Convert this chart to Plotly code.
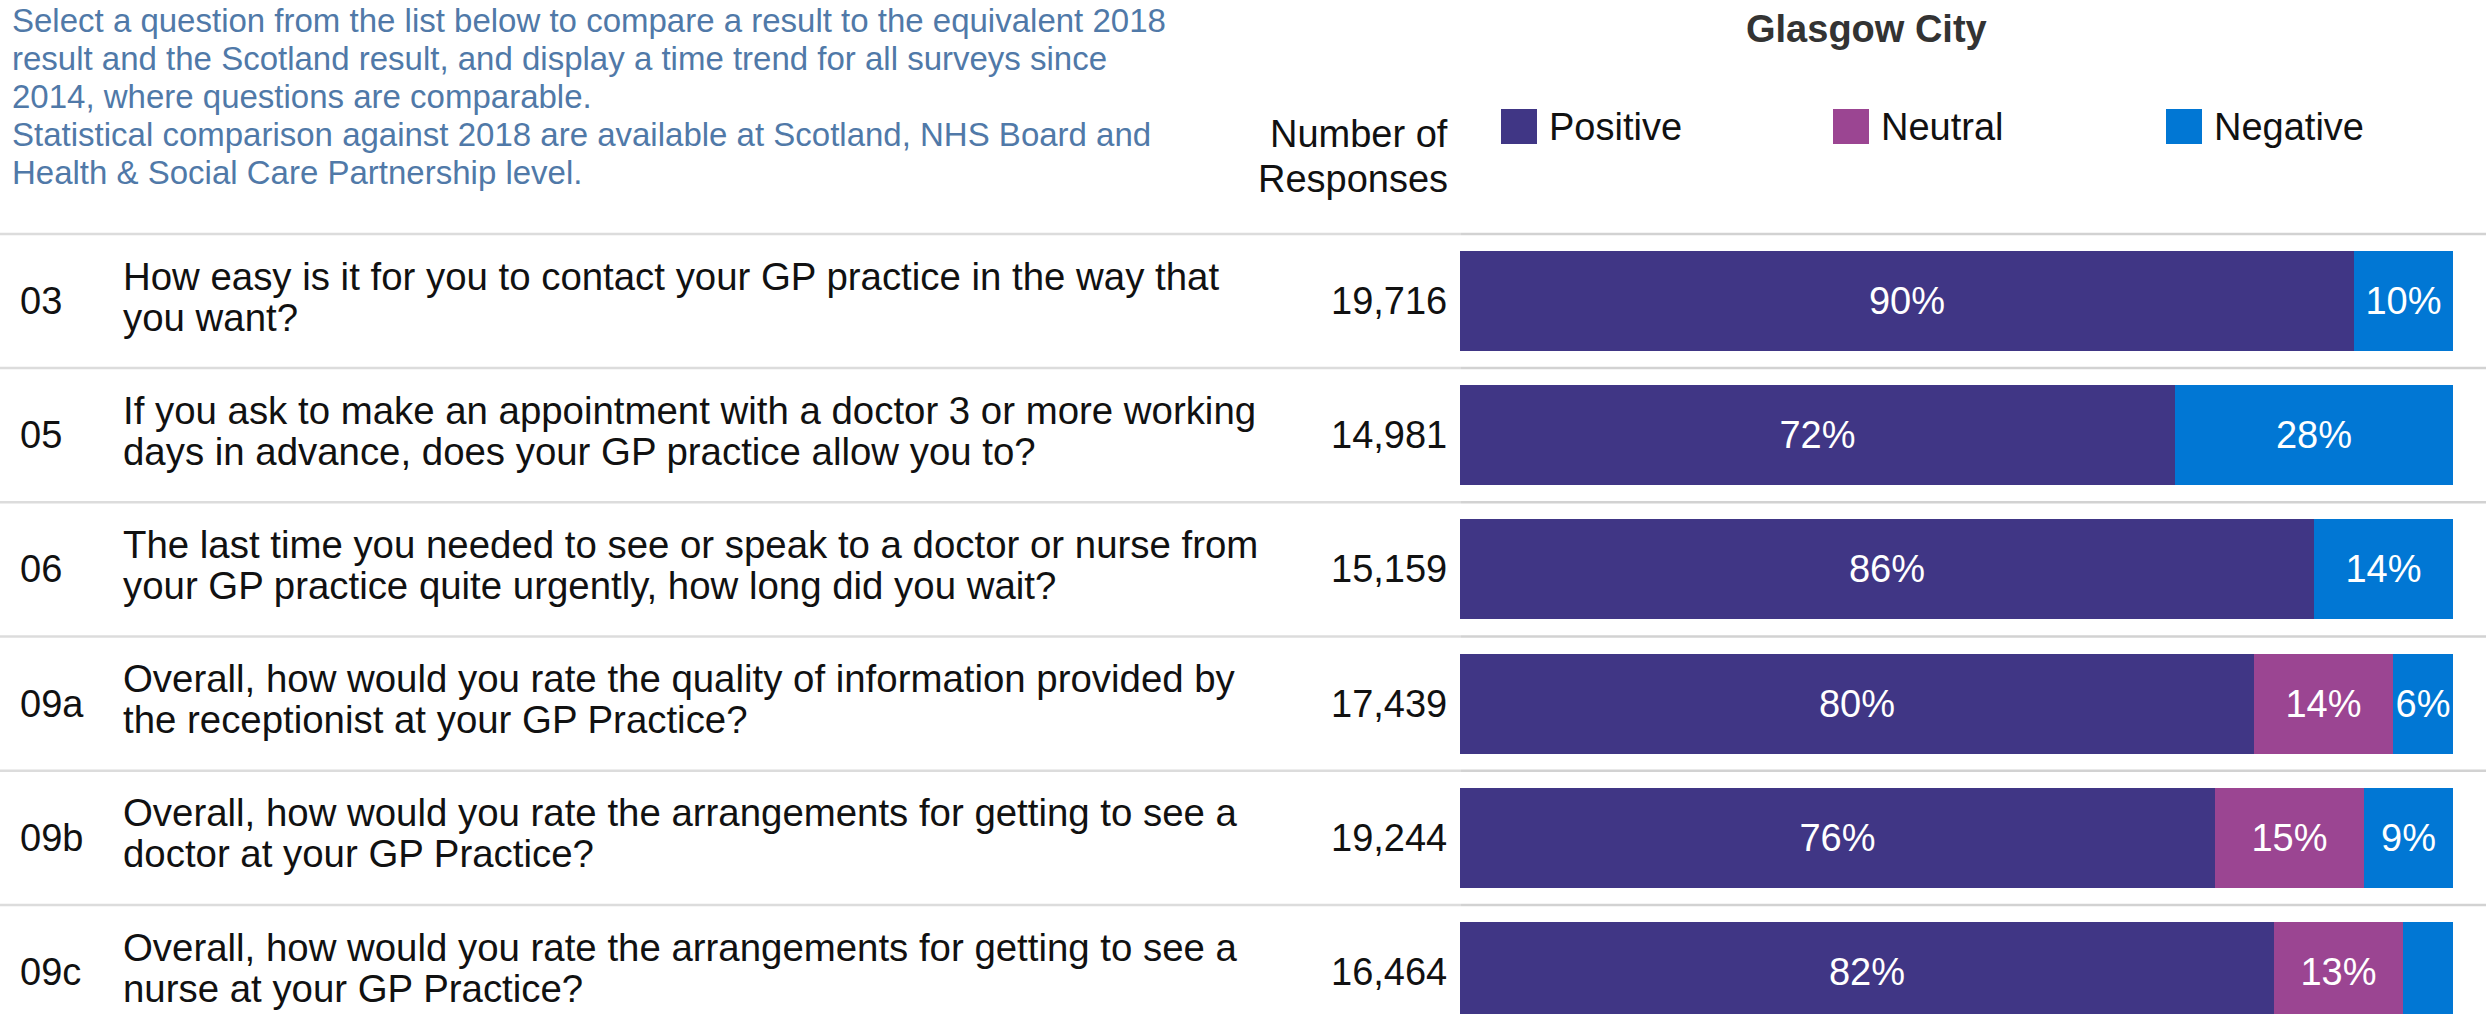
import plotly.graph_objects as go

W, H = 2486, 1014
FONT = "Liberation Sans, Arial, sans-serif"

# ---------------- data ----------------
codes = ["03", "05", "06", "09a", "09b", "09c"]
q_line1 = [
    "How easy is it for you to contact your GP practice in the way that",
    "If you ask to make an appointment with a doctor 3 or more working",
    "The last time you needed to see or speak to a doctor or nurse from",
    "Overall, how would you rate the quality of information provided by",
    "Overall, how would you rate the arrangements for getting to see a",
    "Overall, how would you rate the arrangements for getting to see a",
]
q_line2 = [
    "you want?",
    "days in advance, does your GP practice allow you to?",
    "your GP practice quite urgently, how long did you wait?",
    "the receptionist at your GP Practice?",
    "doctor at your GP Practice?",
    "nurse at your GP Practice?",
]
responses = [19716, 14981, 15159, 17439, 19244, 16464]
positive = [90, 72, 86, 80, 76, 82]
neutral = [0, 0, 0, 14, 15, 13]
negative = [10, 28, 14, 6, 9, 5]

series_names = ["Positive", "Neutral", "Negative"]
series_colors = ["#403685", "#9b4592", "#0177d4"]

intro_lines = [
    "Select a question from the list below to compare a result to the equivalent 2018",
    "result and the Scotland result, and display a time trend for all surveys since",
    "2014, where questions are comparable.",
    "Statistical comparison against 2018 are available at Scotland, NHS Board and",
    "Health & Social Care Partnership level.",
]
title_text = "Glasgow City"
header_lines = ["Number of", "Responses"]

# ---------------- figure ----------------
fig = go.Figure()
for name, vals, col in zip(series_names, [positive, neutral, negative], series_colors):
    fig.add_trace(go.Bar(
        name=name, y=codes, x=vals, orientation="h",
        marker=dict(color=col, line=dict(width=0)),
        width=0.745,
        text=[f"{v}%" if v >= 6 else "" for v in vals],
        textposition="inside", insidetextanchor="middle", textangle=0,
        textfont=dict(family=FONT, size=38, color="white"),
        hoverinfo="skip", showlegend=False,
    ))

# pixel helpers for layout (non-data) placement
def px(x):
    return x / W

def py(y):
    return 1 - y / H

row0_center = 301.0
pitch = 134.2
y_top = -row0_center / pitch
y_bot = y_top + H / pitch

annotations = []
# intro text
for k, line in enumerate(intro_lines):
    annotations.append(dict(
        text=line, xref="paper", yref="paper", x=px(10), y=py(21 + 37.8 * k),
        xanchor="left", yanchor="middle", showarrow=False,
        font=dict(family=FONT, size=33, color="#5079a8"),
    ))
# title
annotations.append(dict(
    text=f"<b>{title_text}</b>", xref="paper", yref="paper", x=px(1867), y=py(29),
    xanchor="center", yanchor="middle", showarrow=False,
    font=dict(family=FONT, size=38, color="#333333"),
))
# header
for k, line in enumerate(header_lines):
    annotations.append(dict(
        text=line, xref="paper", yref="paper", x=px(1450), y=py(134 + 45 * k),
        xanchor="right", yanchor="middle", showarrow=False,
        font=dict(family=FONT, size=38, color="#111111"),
    ))
# legend
legend_x = [1501, 1833, 2166]
for name, col, lx in zip(series_names, series_colors, legend_x):
    annotations.append(dict(
        text=name, xref="paper", yref="paper", x=px(lx + 46), y=py(127),
        xanchor="left", yanchor="middle", showarrow=False,
        font=dict(family=FONT, size=38, color="#111111"),
    ))

# rows
for i, (c, l1, l2, n) in enumerate(zip(codes, q_line1, q_line2, responses)):
    annotations.append(dict(
        text=c, xref="paper", yref="y", x=px(18), y=i,
        xanchor="left", yanchor="middle", showarrow=False,
        font=dict(family=FONT, size=38, color="#111111"),
    ))
    annotations.append(dict(
        text=l1, xref="paper", yref="y", x=px(121), y=i, yshift=25,
        xanchor="left", yanchor="middle", showarrow=False,
        font=dict(family=FONT, size=38.4, color="#111111"),
    ))
    annotations.append(dict(
        text=l2, xref="paper", yref="y", x=px(121), y=i, yshift=-16,
        xanchor="left", yanchor="middle", showarrow=False,
        font=dict(family=FONT, size=38.4, color="#111111"),
    ))
    annotations.append(dict(
        text=f"{n:,}", xref="paper", yref="y", x=px(1449), y=i,
        xanchor="right", yanchor="middle", showarrow=False,
        font=dict(family=FONT, size=38, color="#111111"),
    ))

shapes = []
for i in range(len(codes)):
    yy = i - 0.5
    shapes.append(dict(type="line", xref="paper", yref="y", x0=0, x1=px(1461),
                       y0=yy, y1=yy, line=dict(color="#dcdcdc", width=2.5), layer="below"))
    shapes.append(dict(type="line", xref="paper", yref="y", x0=px(1461), x1=1,
                       y0=yy, y1=yy, line=dict(color="#d2d2d2", width=2.5), layer="below"))
for col, lx in zip(series_colors, legend_x):
    shapes.append(dict(type="rect", xref="paper", yref="paper",
                       x0=px(lx), x1=px(lx + 36), y0=py(144), y1=py(109),
                       fillcolor=col, line=dict(width=0)))

fig.update_layout(
    width=W, height=H,
    margin=dict(l=0, r=0, t=0, b=0, pad=0),
    paper_bgcolor="white", plot_bgcolor="white",
    barmode="stack", bargap=0,
    uniformtext=dict(minsize=38, mode="show"),
    xaxis=dict(domain=[px(1460), px(2453)], range=[0, 100], visible=False, fixedrange=True),
    yaxis=dict(domain=[0, 1], type="category", categoryorder="array", categoryarray=codes,
               range=[y_bot, y_top], visible=False, fixedrange=True),
    annotations=annotations, shapes=shapes,
    showlegend=False,
)

fig.write_html("out.html", config={"displayModeBar": False})
